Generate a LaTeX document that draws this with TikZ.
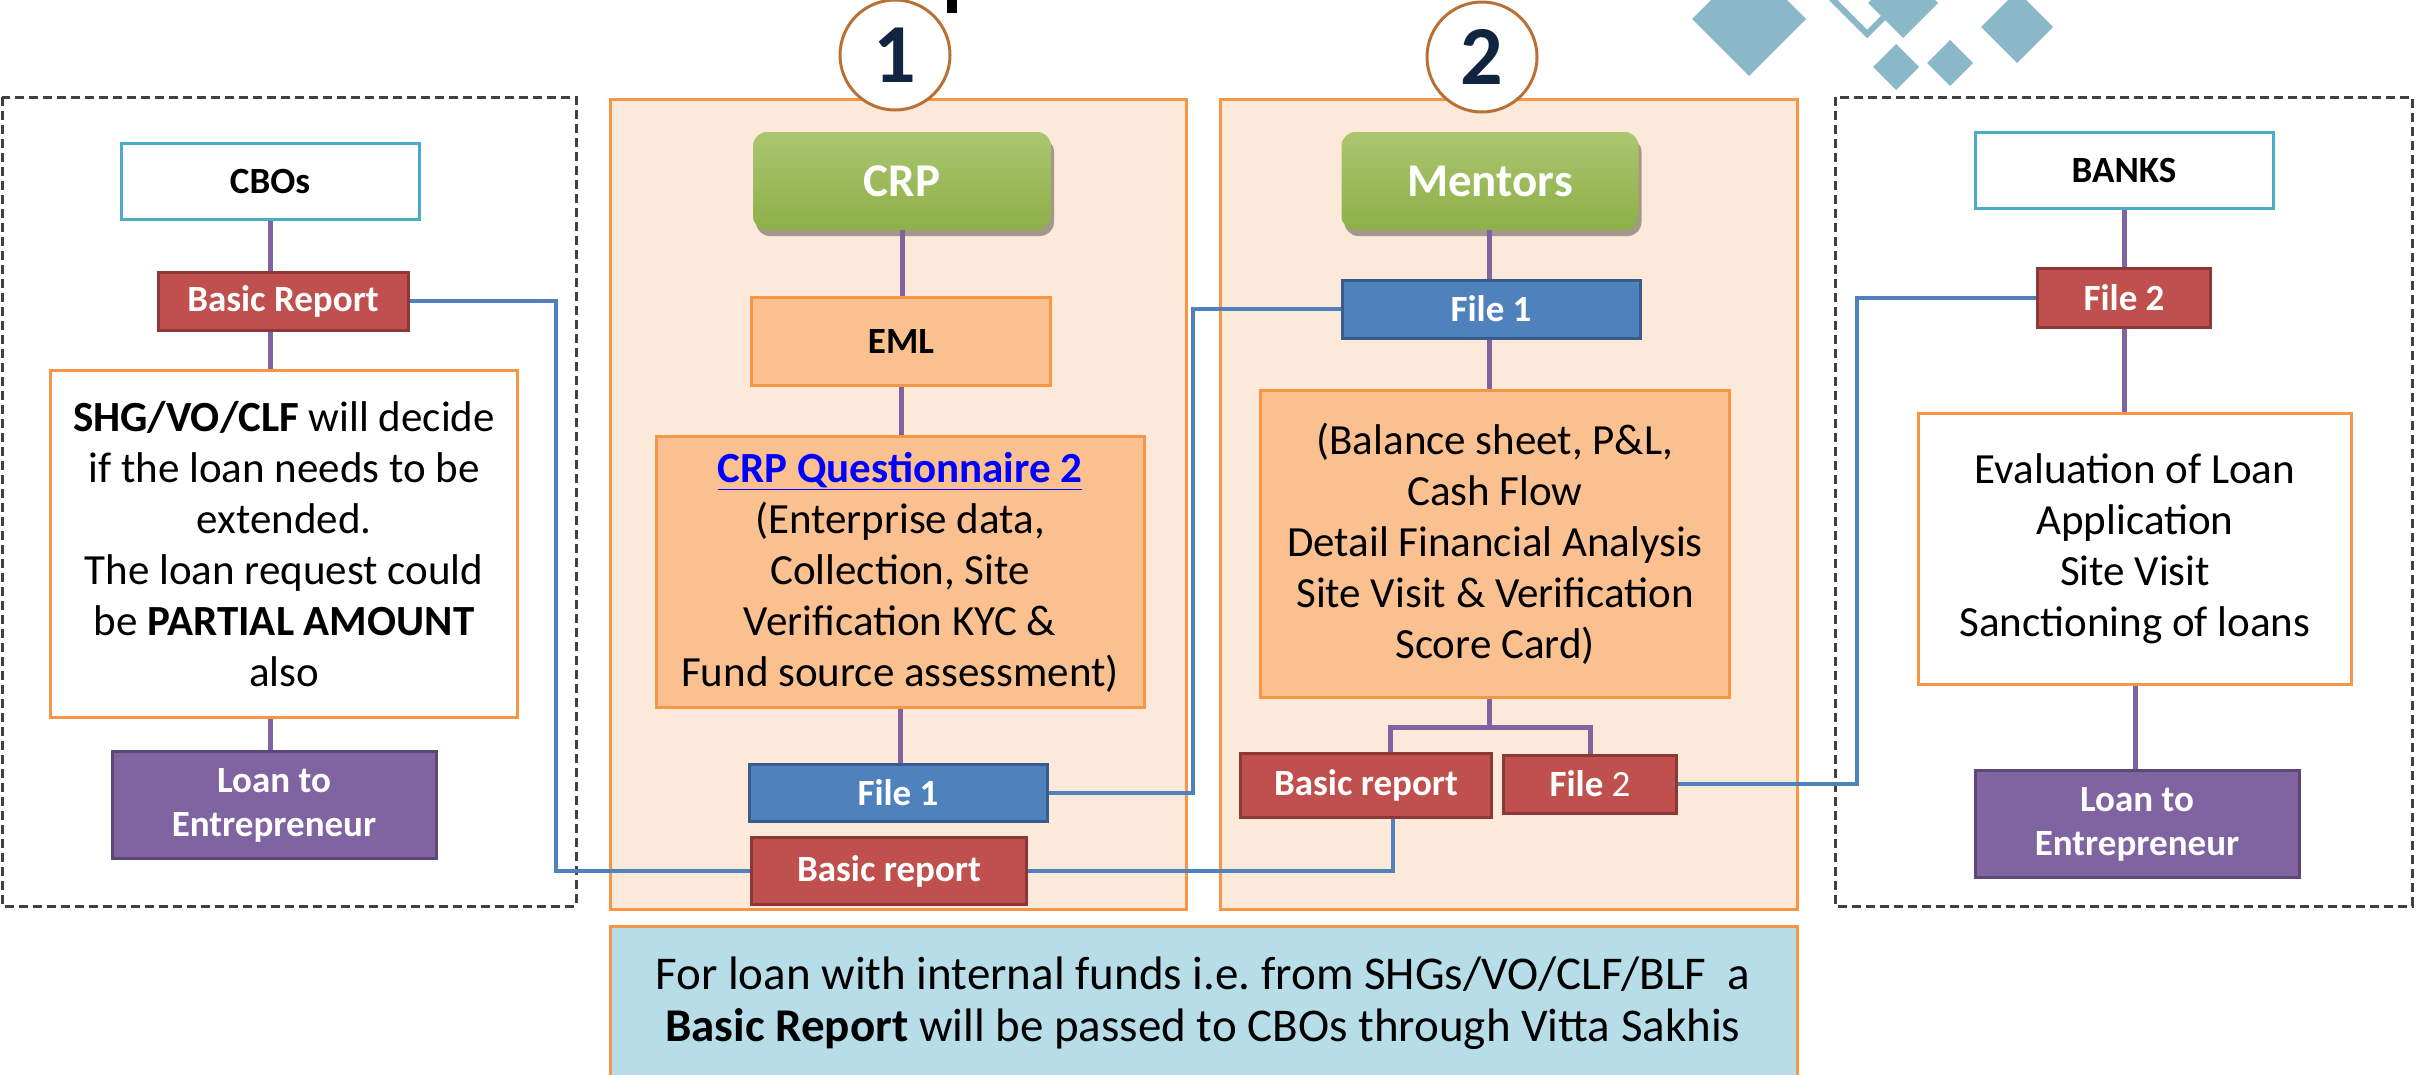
\documentclass[tikz,border=0pt]{standalone}
\usepackage{fontspec}
\setmainfont{Carlito}
\usepackage{pgf}
\usepackage{tikz}
\usetikzlibrary{shadows}
\usepackage{color}
\frenchspacing

\definecolor{panelfill}{RGB}{253,233,217}
\definecolor{emlfill}{RGB}{250,192,144}
\definecolor{orangeline}{RGB}{247,150,70}
\definecolor{boxblue}{RGB}{79,129,189}
\definecolor{boxblueline}{RGB}{56,93,138}
\definecolor{boxred}{RGB}{192,80,77}
\definecolor{boxredline}{RGB}{140,56,54}
\definecolor{boxpurple}{RGB}{128,100,162}
\definecolor{boxpurpleline}{RGB}{92,71,118}
\definecolor{cyanline}{RGB}{75,172,198}
\definecolor{notefill}{RGB}{183,222,232}
\definecolor{greentop}{RGB}{171,198,112}
\definecolor{greenbot}{RGB}{141,176,72}
\definecolor{ringbrown}{RGB}{184,112,52}
\definecolor{navy}{RGB}{17,37,64}
\definecolor{deco}{RGB}{139,184,200}
\definecolor{dashgray}{RGB}{64,64,64}
\definecolor{qlink}{RGB}{0,0,255}

\begin{document}
\begin{tikzpicture}[x=1pt, y=-1pt, line join=miter]
  \tikzstyle{box}=[draw, line width=3pt, inner sep=0pt, align=center]
  \tikzstyle{lbl}=[font=\fontsize{37}{44}\selectfont\bfseries]
  \tikzstyle{txt}=[font=\fontsize{43}{51}\selectfont, align=center]
  \tikzstyle{whitebox}=[box, fill=white, draw=cyanline, lbl]
  \tikzstyle{redbox}=[box, fill=boxred, draw=boxredline, text=white, lbl]
  \tikzstyle{bluebox}=[box, fill=boxblue, draw=boxblueline, text=white, lbl]
  \tikzstyle{purplebox}=[box, fill=boxpurple, draw=boxpurpleline, text=white, lbl]
  \tikzstyle{emlbox}=[box, fill=emlfill, draw=orangeline]
  \tikzstyle{plainbox}=[box, fill=white, draw=orangeline]
  \tikzstyle{greenbox}=[rounded corners=14pt, top color=greentop, bottom color=greenbot, draw=none, text=white,
      font=\fontsize{47}{54}\selectfont\bfseries, drop shadow={shadow xshift=3pt, shadow yshift=-6pt, opacity=0.35, fill=black}]
  \tikzstyle{ring}=[circle, draw=ringbrown, line width=3pt, fill=white, text=navy,
      font=\fontsize{84}{90}\selectfont\bfseries, minimum size=110pt, inner sep=0pt]
  \tikzstyle{tie}=[draw=boxpurple, line width=5pt]
  \tikzstyle{link}=[draw=boxblue, line width=4.5pt]
  \tikzstyle{frame}=[draw=dashgray, line width=3pt, dash pattern=on 9pt off 5pt]
  \tikzstyle{panel}=[draw=orangeline, line width=3pt, fill=panelfill]

  \useasboundingbox (0,0) rectangle (2433,1074);

  % frames and panels
  \path[frame] (2,97) rectangle (576,906);
  \path[frame] (1835,97) rectangle (2412,906);
  \path[panel] (610,99) rectangle (1186,909);
  \path[panel] (1220,99) rectangle (1797,909);
  \path[draw=orangeline, line width=3pt, fill=notefill] (610,926) rectangle (1797,1085);

  % top decoration
  \fill (947,0) rectangle (957,13);
  \fill[deco] (1692,19) -- (1749,-38) -- (1806,19) -- (1749,76) -- cycle;
  \draw[deco, line width=6pt] (1827,-6) -- (1867,-46) -- (1907,-6) -- (1867,34) -- cycle;
  \fill[deco] (1868,3) -- (1903,-32) -- (1938,3) -- (1903,38) -- cycle;
  \fill[deco] (1873,67) -- (1896,44) -- (1919,67) -- (1896,90) -- cycle;
  \fill[deco] (1927,63) -- (1950,40) -- (1973,63) -- (1950,86) -- cycle;
  \fill[deco] (1981,27) -- (2017,-9) -- (2053,27) -- (2017,63) -- cycle;

  \node[ring] (N1) at (895,55) {1};
  \node[ring] (N2) at (1482,57) {2};

  % CBOs
  \node[whitebox, minimum width=298pt, minimum height=76pt] (CBO) at (270,181) {CBOs};
  \node[redbox, minimum width=250pt, minimum height=58pt] (BR1) at (283,301) {Basic Report};
  \node[plainbox, txt, minimum width=467pt, minimum height=347pt] (SHG) at (284,544)
      {\textbf{SHG/VO/CLF} will decide\\ if the loan needs to be\\ extended.\\
      The loan request could\\ be \textbf{PARTIAL AMOUNT}\\ also};
  \node[purplebox, minimum width=324pt, minimum height=107pt] (LN1) at (274,805) {Loan to\\ Entrepreneur};

  % CRP
  \node[greenbox, minimum width=298pt, minimum height=98pt] (CRP) at (902,181) {CRP};
  \node[emlbox, lbl, minimum width=299pt, minimum height=88pt] (EML) at (901,341) {EML};
  \node[emlbox, txt, minimum width=488pt, minimum height=271pt] (Q2) at (900,572)
      {\textcolor{qlink}{\textbf{\underline{CRP Questionnaire 2}}}\\ (Enterprise data,\\ Collection, Site\\
      Verification KYC \&\\ Fund source assessment)};
  \node[bluebox, minimum width=298pt, minimum height=57pt] (F1A) at (898,793) {File 1};
  \node[redbox, minimum width=275pt, minimum height=67pt] (BR2) at (889,871) {Basic report};

  % Mentors
  \node[greenbox, minimum width=297pt, minimum height=98pt] (MEN) at (1490,181) {Mentors};
  \node[bluebox, minimum width=298pt, minimum height=58pt] (F1B) at (1491,309) {File 1};
  \node[emlbox, txt, minimum width=469pt, minimum height=307pt] (BAL) at (1495,544)
      {(Balance sheet, P\&L,\\ Cash Flow\\ Detail Financial Analysis\\ Site Visit \& Verification\\ Score Card)};
  \node[redbox, minimum width=251pt, minimum height=64pt] (BR3) at (1366,785) {Basic report};
  \node[redbox, minimum width=173pt, minimum height=58pt] (F2A) at (1590,784) {File \mdseries 2};

  % BANKS
  \node[whitebox, minimum width=298pt, minimum height=76pt] (BNK) at (2124,170) {BANKS};
  \node[redbox, minimum width=173pt, minimum height=59pt] (F2B) at (2124,298) {File 2};
  \node[plainbox, txt, minimum width=433pt, minimum height=271pt] (EVA) at (2135,549)
      {Evaluation of Loan\\ Application\\ Site Visit\\ Sanctioning of loans};
  \node[purplebox, minimum width=324pt, minimum height=107pt] (LN2) at (2137,824) {Loan to\\ Entrepreneur};

  \node[font=\fontsize{47}{52}\selectfont, align=center] (NOTE) at (1203,1003)
      {For loan with internal funds i.e. from SHGs/VO/CLF/BLF\ \ a\\
      \textbf{Basic Report} will be passed to CBOs through Vitta Sakhis};

  % purple ties
  \coordinate (JL) at (1390,727);
  \coordinate (JM) at (1489,727);
  \draw[tie] (CBO.south) -- (CBO.south |- BR1.north);
  \draw[tie] (CBO.south |- BR1.south) -- (CBO.south |- SHG.north);
  \draw[tie] (CBO.south |- SHG.south) -- (CBO.south |- LN1.north);
  \draw[tie] (CRP.south) -- (CRP.south |- EML.north);
  \draw[tie] (EML.south) -- (EML.south |- Q2.north);
  \draw[tie] (Q2.south) -- (Q2.south |- F1A.north);
  \draw[tie] (JM |- MEN.south) -- (JM |- F1B.north);
  \draw[tie] (JM |- F1B.south) -- (JM |- BAL.north);
  \draw[tie] (JM |- BAL.south) -- (JM);
  \draw[tie] (JL |- BR3.north) -- (JL) -- (JL -| F2A.north) -- (F2A.north);
  \draw[tie] (BNK.south) -- (BNK.south |- F2B.north);
  \draw[tie] (F2B.south) -- (F2B.south |- EVA.north);
  \draw[tie] (EVA.south) -- (EVA.south |- LN2.north);

  % blue links
  \coordinate (K1) at (556,0);
  \coordinate (K2) at (1193,0);
  \coordinate (K3) at (1857,0);
  \coordinate (K4) at (1393,0);
  \draw[link] (BR1.east) -| (K1 |- BR2.west) -- (BR2.west);
  \draw[link] (F1A.east) -| (K2 |- F1B.west) -- (F1B.west);
  \draw[link] (K4 |- BR3.south) |- (BR2.east);
  \draw[link] (F2A.east) -| (K3 |- F2B.west) -- (F2B.west);
\end{tikzpicture}
\end{document}
